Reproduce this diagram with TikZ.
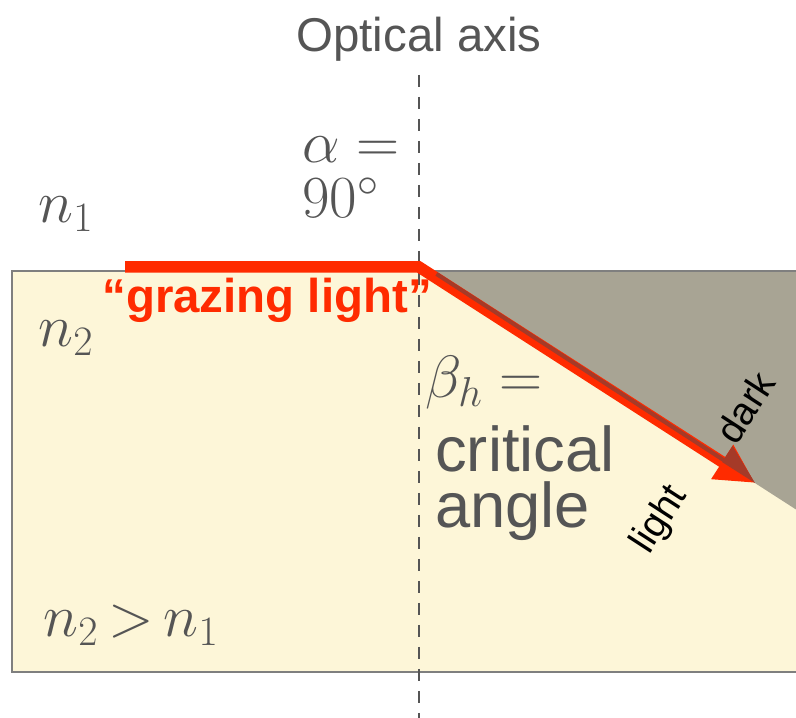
\RequirePackage{fix-cm}
\documentclass[tikz,border=0pt]{standalone}
\usepackage[no-math]{fontspec}
\setmainfont{Liberation Sans}
\usepackage{xcolor}
\usepackage{tikz}
\usetikzlibrary{arrows.meta}
\definecolor{txt}{HTML}{555555}
\definecolor{edge}{HTML}{7F7F7F}
\definecolor{glass}{HTML}{FDF6D8}
\definecolor{shadow}{HTML}{A8A494}
\definecolor{ray}{HTML}{FF2B00}
\definecolor{raydark}{HTML}{A53A28}

\begin{document}
\begin{tikzpicture}[
  lbl/.style={text=txt, inner sep=0pt, font=\fontsize{27}{32}\selectfont},
  big/.style={text=txt, inner sep=0pt, font=\fontsize{36}{40}\selectfont},
  mth/.style={text=txt, inner sep=0pt, font=\fontsize{34}{40}\selectfont},
  side/.style={inner sep=0pt, font=\fontsize{22}{26}\selectfont, rotate=57},
  x=1cm, y=1cm]
\useasboundingbox (0,0) rectangle (15.92,14.36);
\clip (0,0) rectangle (15.92,14.36);
% media
\fill[glass] (0.24,0.92) rectangle (16.2,8.94);
\fill[shadow] (8.51,8.94) -- (16.2,8.94) -- (16.2,3.99) -- cycle;
\draw[edge, line width=0.03cm] (16.2,0.92) -- (0.24,0.92) -- (0.24,8.94) -- (16.2,8.94);
% optical axis
\coordinate (axtop) at (8.38,12.86);
\coordinate (axbot) at (8.38,0);
\draw[txt, line width=0.04cm, dash pattern=on 0.24cm off 0.2cm] (axtop) -- (axbot);
% ray
\coordinate (src) at (2.5,9.02);
\coordinate (hit) at (8.38,9.02);
\coordinate (tip) at (15.1,4.70);
\coordinate (hdup) at (14.65,5.44);
\coordinate (hdmid) at (14.44,5.12);
\draw[ray, line width=0.23cm, line join=miter, -{Triangle[length=0.78cm,width=0.76cm]}] (src) -- (hit) -- (tip);
\draw[raydark, line width=0.08cm, transform canvas={shift={(0.03,0.04)}}] (8.7,8.84) -- (hdmid);
\fill[raydark] (tip) -- (hdup) -- (hdmid) -- cycle;
% labels
\node[lbl, anchor=base] (axislbl) at (8.38,13.32) {Optical axis};
\node[mth, anchor=base west] (alpha) at (6.04,11.10) {$\alpha\;{=}$};
\node[mth, anchor=base west] (ninety) at (6.04,10.00) {$90^\circ$};
\node[mth, anchor=base west] (n1) at (0.76,9.90) {$n_1$};
\node[mth, anchor=base west] (n2) at (0.76,7.42) {$n_2$};
\node[mth, anchor=base west] (ncmp) at (0.86,1.62) {$n_2\,{>}\,n_1$};
\node[anchor=base west, inner sep=0pt, text=ray, font=\bfseries\fontsize{27}{32}\selectfont] (graze) at (2.04,8.10) {``grazing light''};
\node[mth, anchor=base west] (beta) at (8.50,6.40) {$\beta_h =$};
\node[big, anchor=base west] (crit) at (8.70,4.92) {critical};
\node[big, anchor=base west] (angle) at (8.70,3.80) {angle};
\node[side] (dark) at (14.9,6.22) {dark};
\node[side] (light) at (13.2,3.96) {light};
\end{tikzpicture}
\end{document}
